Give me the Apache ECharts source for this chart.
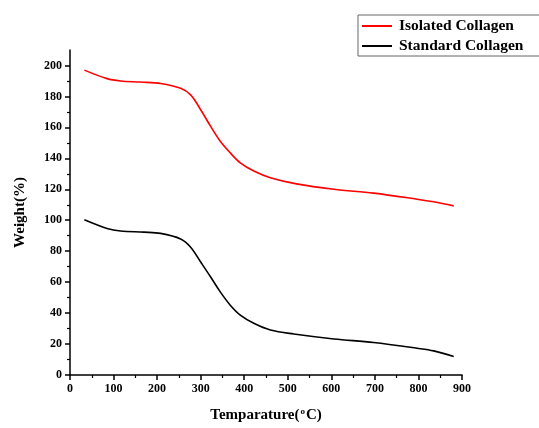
<!DOCTYPE html>
<html><head><meta charset="utf-8">
<script src="https://cdn.jsdelivr.net/npm/echarts@6/dist/echarts.min.js"></script>
<style>html,body{margin:0;padding:0;background:#fff}#c{width:539px;height:428px}</style>
</head><body><div id="c"></div>
<script>
const seriesNames = ['Isolated Collagen', 'Standard Collagen'];
const isolatedTemp = [33, 85, 116, 162, 208, 254, 277, 300, 323, 345, 368, 391, 422, 460, 520, 606, 697, 797, 835, 881];
const isolatedWeight = [197, 191.5, 190, 189.3, 188.4, 185.3, 181, 171.4, 160.6, 151, 143.5, 137.1, 131.8, 127.5, 123.5, 120, 117.5, 113.6, 111.9, 109.3];
const standardTemp = [33, 85, 116, 170, 208, 254, 277, 300, 323, 345, 368, 391, 422, 460, 514, 606, 697, 797, 835, 881];
const standardWeight = [100.3, 94.7, 93, 92.3, 91.5, 87.9, 82.6, 73, 63.3, 53.7, 45.1, 38.7, 33.4, 29.1, 26.5, 23.3, 21, 17.3, 15.6, 12];
const xTicks = [0, 100, 200, 300, 400, 500, 600, 700, 800, 900];
const yTicks = [0, 20, 40, 60, 80, 100, 120, 140, 160, 180, 200];

const font = 'Liberation Serif';
const chart = echarts.init(document.getElementById('c'), null, {renderer: 'canvas'});
const axisCommon = {
  axisLine: {show: true, lineStyle: {color: '#000', width: 1.5}},
  axisTick: {show: true, inside: false, length: 5, lineStyle: {color: '#000', width: 1.5}},
  minorTick: {show: true, splitNumber: 2, length: 3, lineStyle: {color: '#000', width: 1.2}},
  splitLine: {show: false},
  axisLabel: {color: '#000', fontFamily: font, fontWeight: 'bold', fontSize: 12}
};
chart.setOption({
  animation: false,
  backgroundColor: '#fff',
  grid: {left: 70, right: 77, top: 50, bottom: 51},
  legend: {
    orient: 'vertical', left: 358, top: 15,
    data: seriesNames.map(n => ({name: n, icon: 'rect'})),
    itemWidth: 30, itemHeight: 2, itemGap: 4,
    borderColor: '#666', borderWidth: 1, padding: [3, 20, 2, 4],
    textStyle: {fontFamily: font, fontWeight: 'bold', fontSize: 15.5, color: '#000', padding: [0, 0, 0, 2]}
  },
  xAxis: Object.assign({}, axisCommon, {
    type: 'value', min: 0, max: 900, interval: 100,
    axisLabel: Object.assign({}, axisCommon.axisLabel, {margin: 8, customValues: xTicks}),
    name: '{a|Temparature(}{s|o}{a|C)}', nameLocation: 'middle', nameGap: 32,
    nameTextStyle: {rich: {
      a: {fontFamily: font, fontWeight: 'bold', fontSize: 15, color: '#000'},
      s: {fontFamily: font, fontWeight: 'bold', fontSize: 9, color: '#000', verticalAlign: 'top', padding: [0, 1, 8, 1]}
    }}
  }),
  yAxis: Object.assign({}, axisCommon, {
    type: 'value', min: 0, max: 210, interval: 20,
    axisLabel: Object.assign({}, axisCommon.axisLabel, {margin: 8, customValues: yTicks}),
    axisTick: Object.assign({}, axisCommon.axisTick, {customValues: yTicks}),
    minorTick: {show: true, splitNumber: 2, length: 3, lineStyle: {color: '#000', width: 1.2}},
    name: 'Weight(%)', nameLocation: 'middle', nameGap: 42, nameRotate: 90,
    nameTextStyle: {fontFamily: font, fontWeight: 'bold', fontSize: 15, color: '#000'}
  }),
  series: [
    {name: seriesNames[0], type: 'line', smooth: 0.35, symbol: 'none', color: '#ff0000',
     lineStyle: {width: 1.6, color: '#ff0000'},
     data: isolatedTemp.map((t, i) => [t, isolatedWeight[i]])},
    {name: seriesNames[1], type: 'line', smooth: 0.35, symbol: 'none', color: '#000',
     lineStyle: {width: 1.6, color: '#000'},
     data: standardTemp.map((t, i) => [t, standardWeight[i]])}
  ]
});
</script></body></html>
